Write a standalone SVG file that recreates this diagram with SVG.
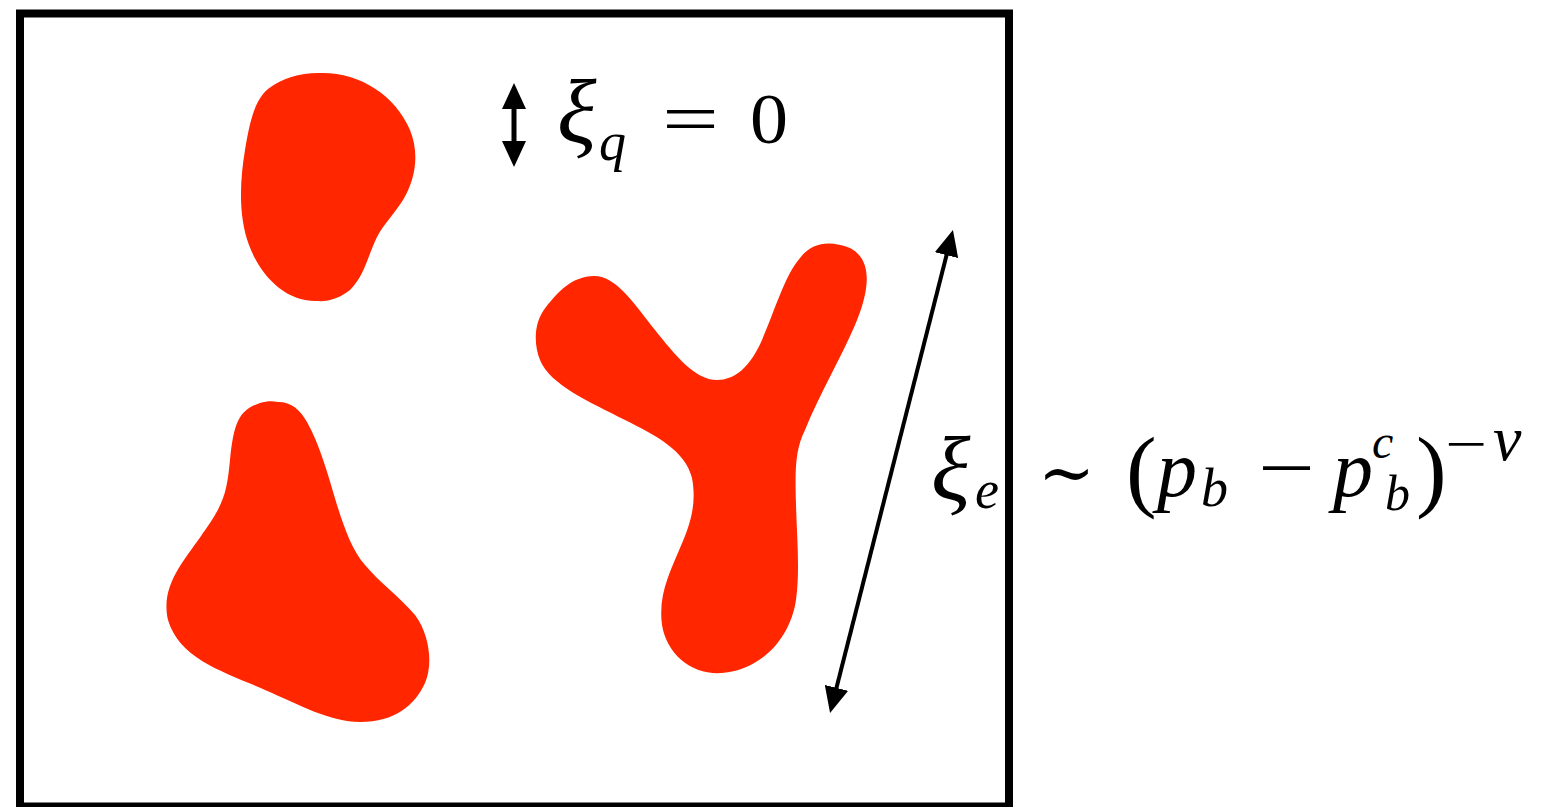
<svg xmlns="http://www.w3.org/2000/svg" width="1552" height="807" viewBox="0 0 1552 807">
<style>
.blob{fill:#ff2600;stroke:none}
.ln{stroke:#000;stroke-width:4;fill:none}
.m{font-family:"Liberation Serif","DejaVu Serif",serif;fill:#000}
.i{font-style:italic}
</style>
<defs>
<marker id="ah" markerUnits="userSpaceOnUse" markerWidth="26" markerHeight="24" refX="14" refY="12" orient="auto-start-reverse" viewBox="0 0 26 24">
<path d="M0,0 L26,12 L0,24 Z" fill="#000"/>
</marker>
</defs>
<rect x="20" y="13.5" width="989" height="793" fill="#fff" stroke="#000" stroke-width="8"/>
<g id="blob-top-left">
<path class="blob" d="M323,73 C360,73 395,95 410,130 C420,155 415,180 403,200 C395,213 383,225 377,237 C368,255 365,275 350,290 C340,298 328,302 317,301 C285,302 260,275 249,245 C238,215 240,180 245,150 C250,120 255,100 268,89 C283,77 303,72 323,73 Z"/>
</g>
<g id="blob-bottom-left">
<path class="blob" d="M278,402 C292,402 300,410 307,422 C320,445 328,475 337,505 C345,530 352,550 365,565 C380,583 400,597 415,615 C430,635 433,665 425,683 C415,705 395,722 360,722 C330,722 300,705 265,690 C225,672 180,660 168,620 C160,585 185,560 203,533 C225,503 227,490 230,460 C234,420 240,410 260,403 C267,401 272,401 278,402 Z"/>
</g>
<g id="blob-y">
<path class="blob" d="M594,276 C572,276 557,293 546,307 C533,323 534,345 540,360 C550,385 590,402 625,420 C655,435 685,450 692,478 C697,505 690,525 680,548 C670,572 658,595 662,625 C667,655 692,675 722,673 C760,670 790,640 796,600 C800,570 797,540 796,505 C795,470 795,450 805,430 C820,393 840,360 855,325 C870,290 873,260 850,248 C830,240 812,242 800,258 C785,275 775,310 762,340 C750,367 735,380 717,380 C695,380 675,355 655,330 C635,305 617,276 594,276 Z"/>
</g>
<g id="connectors">
<line class="ln" style="stroke-width:5" x1="514" y1="95" x2="514" y2="155" marker-start="url(#ah)" marker-end="url(#ah)"/>
<line class="ln" x1="833" y1="701.4" x2="950" y2="241.6" marker-start="url(#ah)" marker-end="url(#ah)"/>
</g>
<g id="label-xi-q">
<text class="m i" x="557" y="143" font-size="92">ξ</text>
<text class="m i" x="599" y="160" font-size="54">q</text>
<text class="m" x="662" y="143" font-size="72" textLength="57" lengthAdjust="spacingAndGlyphs">=</text>
<text class="m" x="750" y="143" font-size="72" textLength="38" lengthAdjust="spacingAndGlyphs">0</text>
</g>
<g id="label-xi-e">
<text class="m i" x="931" y="500" font-size="92">ξ</text>
<text class="m i" x="975" y="508" font-size="54">e</text>
<text class="m" x="1038" y="497" font-size="72" textLength="57" lengthAdjust="spacingAndGlyphs">∼</text>
<text class="m" x="1126" y="500" font-size="92">(</text>
<text class="m i" x="1157" y="496" font-size="80">p</text>
<text class="m i" x="1201" y="506" font-size="54">b</text>
<text class="m" x="1258" y="492" font-size="72" textLength="57" lengthAdjust="spacingAndGlyphs">−</text>
<text class="m i" x="1333" y="496" font-size="80">p</text>
<text class="m i" x="1372" y="458" font-size="48">c</text>
<text class="m i" x="1385" y="510" font-size="50">b</text>
<text class="m" x="1416" y="500" font-size="92">)</text>
<text class="m" x="1445" y="462" font-size="54" textLength="42" lengthAdjust="spacingAndGlyphs">−</text>
<text class="m i" x="1493" y="460" font-size="64">ν</text>
</g>
</svg>
